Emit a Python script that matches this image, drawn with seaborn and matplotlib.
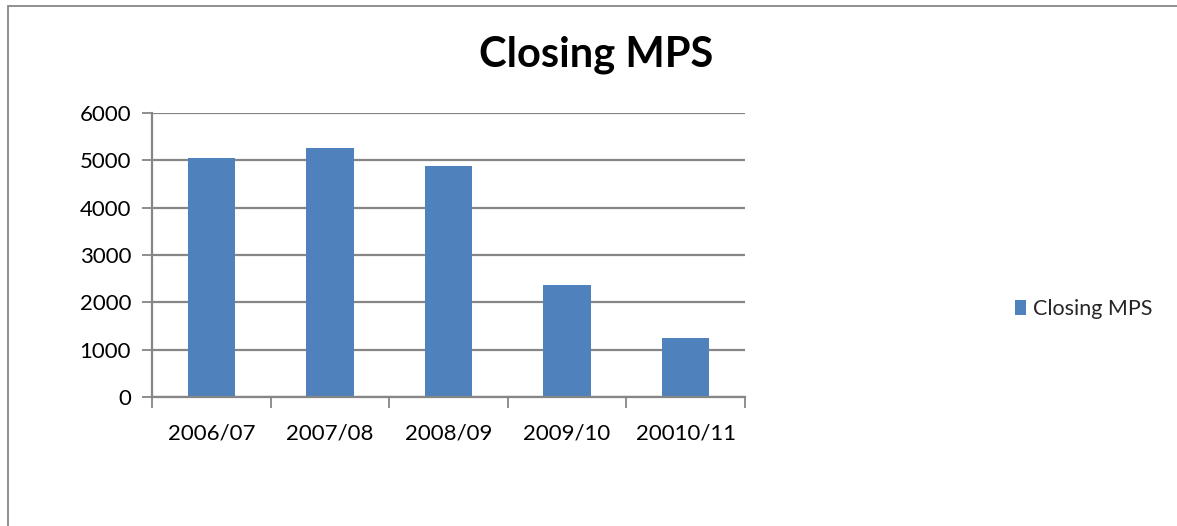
import matplotlib
matplotlib.use("Agg")
import matplotlib.pyplot as plt
import seaborn as sns
import pandas as pd
from matplotlib.patches import Rectangle, Patch
from matplotlib.ticker import FixedLocator

categories = ["2006/07", "2007/08", "2008/09", "2009/10", "20010/11"]
values = [5050, 5270, 4890, 2370, 1240]
series_name = "Closing MPS"
y_ticks = [0, 1000, 2000, 3000, 4000, 5000, 6000]

sns.set_theme(style="white")
plt.rcParams['font.family'] = ['Lato', 'DejaVu Sans']

df = pd.DataFrame({"Year": categories, "Value": values})

fig = plt.figure(figsize=(11.77, 5.26), dpi=100)
ax = fig.add_axes([152/1177, 1-397/526, (745-152)/1177, (397-113)/526])

sns.barplot(data=df, x="Year", y="Value", color="#4F81BD", width=0.4,
            saturation=1, ax=ax, edgecolor="none")

grid_c = "#868686"
ax.set_ylim(0, 6000)
ax.set_xlim(-0.5, len(categories) - 0.5)
ax.set_yticks(y_ticks)
ax.yaxis.grid(True, color=grid_c, linewidth=1.6)
ax.set_axisbelow(True)
for s in ["top", "right"]:
    ax.spines[s].set_visible(False)
for s in ["left", "bottom"]:
    ax.spines[s].set_color(grid_c)
    ax.spines[s].set_linewidth(1.6)

ax.tick_params(axis="y", which="major", direction="out", length=7, width=1.3,
               color=grid_c, labelsize=16, pad=8, left=True)
ax.tick_params(axis="x", which="major", length=0, labelsize=16, pad=19)
ax.xaxis.set_minor_locator(FixedLocator([i - 0.5 for i in range(len(categories) + 1)]))
ax.tick_params(axis="x", which="minor", direction="out", length=8, width=1.3,
               color=grid_c, bottom=True)
ax.set_xlabel("")
ax.set_ylabel("")
for lbl in ax.get_xticklabels() + ax.get_yticklabels():
    lbl.set_color("#000000")

fig.text(596/1177, 1-55/526, "Closing MPS", ha="center", va="center",
         fontsize=30, fontweight="bold", color="#000000")

handle = Patch(facecolor="#4F81BD", edgecolor="none")
fig.legend([handle], [series_name], loc="center left",
           bbox_to_anchor=(1015/1177, 1-309/526), frameon=False,
           borderpad=0, borderaxespad=0,
           fontsize=15.5, handlelength=0.5, handleheight=0.7, handletextpad=0.35)

fig.patches.append(Rectangle((8/1177, -0.1), 1.2, 1 - 6/526 + 0.1,
                             transform=fig.transFigure, fill=False,
                             edgecolor="#868686", linewidth=1.3))

fig.savefig("out.png", dpi=100)
